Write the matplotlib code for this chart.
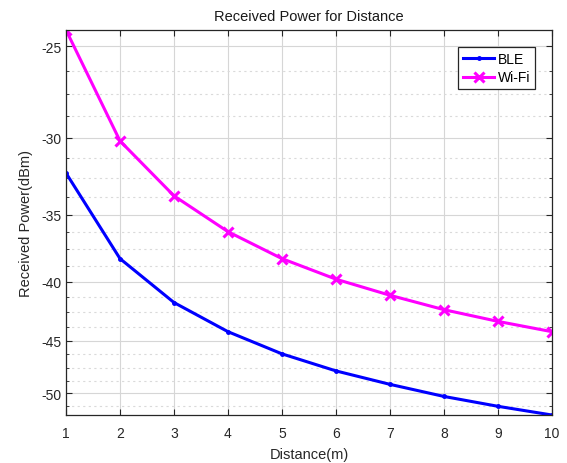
import numpy as np
import matplotlib.pyplot as plt
from matplotlib.ticker import FixedLocator, MultipleLocator

distance = [1, 2, 3, 4, 5, 6, 7, 8, 9, 10]
ble_power = [-32.2, -38.2, -41.7, -44.2, -46.2, -47.8, -49.1, -50.3, -51.3, -52.2]
wifi_power = [-24.2, -30.2, -33.7, -36.2, -38.2, -39.8, -41.1, -42.3, -43.3, -44.2]
y_ticks = [-50, -45, -40, -35, -30, -25]


def fwd(y):
    y = np.asarray(y, dtype=float)
    return -np.log(np.clip(-y, 1e-9, None))


def inv(t):
    return -np.exp(-np.asarray(t, dtype=float))


plt.rcParams['font.family'] = 'Liberation Sans'
fig = plt.figure(figsize=(5.67, 4.64), dpi=100)
ax = fig.add_axes([0.1164, 0.1034, 0.8571, 0.8298])

ax.set_yscale('function', functions=(fwd, inv))

ax.plot(distance, ble_power, color='#0000ff', lw=2.2, marker='.', ms=5, label='BLE')
ax.plot(distance, wifi_power, color='#ff00ff', lw=2.2, marker='x', ms=7, mew=2.2, label='Wi-Fi')

ax.set_xlim(1, 10)
ax.set_ylim(min(ble_power), max(wifi_power))
ax.set_xticks(distance)
ax.yaxis.set_major_locator(FixedLocator(y_ticks))
ax.yaxis.set_minor_locator(MultipleLocator(1.25))
ax.set_yticklabels([str(v) for v in y_ticks])

ax.grid(True, which='major', color='#d6d6d6', lw=0.8, ls='-')
ax.grid(True, which='minor', axis='y', color='#dadada', lw=0.8, ls=(0, (2, 3)))
ax.set_axisbelow(True)

ax.tick_params(which='both', direction='in', top=True, right=True, colors='#262626',
               labelsize=10, length=4)
ax.tick_params(which='minor', length=2)
ax.tick_params(axis='x', pad=8)
for s in ax.spines.values():
    s.set_color('#262626')
    s.set_linewidth(0.9)

ax.set_title('Received Power for Distance', fontsize=10.5, color='#1a1a1a', pad=7)
ax.set_xlabel('Distance(m)', fontsize=10.5, color='#262626', labelpad=5)
ax.set_ylabel('Received Power(dBm)', fontsize=10.5, color='#262626', labelpad=6)

leg = ax.legend(loc='upper right', fontsize=10, fancybox=False, framealpha=1,
                edgecolor='#262626', handlelength=2.2, borderaxespad=1.2,
                borderpad=0.35, labelspacing=0.35, handletextpad=0.3)
leg.get_frame().set_linewidth(0.9)

fig.savefig('out.png', dpi=100)
